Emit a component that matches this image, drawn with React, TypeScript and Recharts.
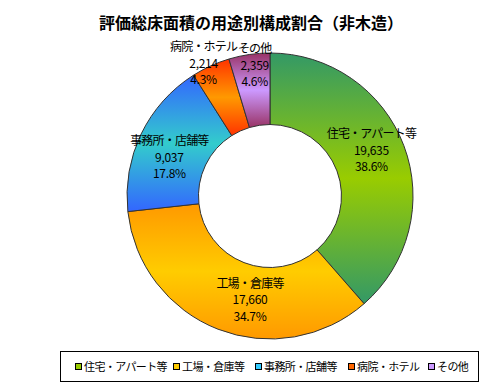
import React from "react";
import { PieChart, Pie, Cell } from "recharts";

// ── Data ───────────────────────────────────────────────────

const CATEGORIES = ["住宅・アパート等", "工場・倉庫等", "事務所・店舗等", "病院・ホテル", "その他"];
const VALUES = [19635, 17660, 9037, 2214, 2359];
const PERCENTS = ["38.6%", "34.7%", "17.8%", "4.3%", "4.6%"];

// ── Styles ─────────────────────────────────────────────────

const FONT = "'Noto Sans CJK JP', 'Noto Sans', sans-serif";

// [edge, center] of each slice's vertical gradient
const GRADS: [string, string][] = [
  ["#339966", "#99cc00"],
  ["#ff9900", "#ffcc00"],
  ["#3366ff", "#33cccc"],
  ["#ff3300", "#ff9900"],
  ["#993366", "#cc99ff"],
];
const LEGEND_COLORS = ["#99cc00", "#ffcc00", "#33ccff", "#ff6600", "#cc99ff"];
const LEGEND_X = [14, 112, 194, 287, 367];

// label radius (ratio of outer) and nudge for each slice
const LABEL_R = [0.75, 0.75, 0.75, 1.035, 0.93];
const LABEL_NUDGE: [number, number][] = [
  [1, -9],
  [19, 3],
  [-4, 7],
  [-5, 1],
  [4, 0],
];

const data = CATEGORIES.map((name, i) => ({ name, value: VALUES[i], pct: PERCENTS[i] }));

const TOTAL = VALUES.reduce((s, v) => s + v, 0);
const MID_ANGLES = VALUES.map((v, i) => {
  const before = VALUES.slice(0, i).reduce((s, x) => s + x, 0);
  return 90 - ((before + v / 2) / TOTAL) * 360;
});

const RADIAN = Math.PI / 180;

function renderLabel(props: any) {
  const { cx, cy, outerRadius, index } = props;
  const mid = MID_ANGLES[index];
  const r = outerRadius * LABEL_R[index];
  const x = cx + r * Math.cos(-mid * RADIAN) + LABEL_NUDGE[index][0];
  const y = cy + r * Math.sin(-mid * RADIAN) + LABEL_NUDGE[index][1];
  const lines = [CATEGORIES[index], VALUES[index].toLocaleString("en-US"), PERCENTS[index]];
  return (
    <text key={index} x={x} y={y} textAnchor="middle" fontSize={12} fontFamily={FONT} fill="#000">
      {lines.map((t, k) => (
        <tspan
          key={k}
          x={x}
          y={y + (k - 1) * 16.5}
          dominantBaseline="central"
          letterSpacing={k === 0 ? -0.8 : -0.3}
        >
          {t}
        </tspan>
      ))}
    </text>
  );
}

function LegendBox() {
  return (
    <div
      style={{
        position: "absolute",
        left: 60,
        top: 351,
        width: 417,
        height: 29,
        border: "1px solid #000",
        fontFamily: FONT,
        fontSize: 11,
        letterSpacing: -0.6,
        whiteSpace: "nowrap",
      }}
    >
      {CATEGORIES.map((c, i) => (
        <div
          key={c}
          style={{ position: "absolute", left: LEGEND_X[i], top: 6, display: "flex", alignItems: "center", lineHeight: "16px" }}
        >
          <span
            style={{
              display: "inline-block",
              width: 5,
              height: 5,
              border: "1px solid #000",
              background: LEGEND_COLORS[i],
              marginRight: 2,
            }}
          />
          <span>{c}</span>
        </div>
      ))}
    </div>
  );
}

export default function App() {
  return (
    <div style={{ position: "absolute", left: 0, top: 0, width: 502, height: 390, background: "#fff" }}>
      <svg width={0} height={0} style={{ position: "absolute" }}>
        <defs>
          {GRADS.map(([edge, center], i) => (
            <linearGradient key={i} id={`g${i}`} x1="0" y1="0" x2="0" y2="1">
              <stop offset="0%" stopColor={edge} />
              <stop offset="50%" stopColor={center} />
              <stop offset="100%" stopColor={edge} />
            </linearGradient>
          ))}
        </defs>
      </svg>
      <div
        style={{
          position: "absolute",
          left: 0,
          top: 12,
          width: 502,
          textAlign: "center",
          fontFamily: FONT,
          fontWeight: "bold",
          fontSize: 16,
          lineHeight: "20px",
        }}
      >
        評価総床面積の用途別構成割合（非木造）
      </div>
      <div style={{ position: "absolute", left: 0, top: 0 }}>
        <PieChart width={502} height={390} margin={{ top: 0, right: 0, bottom: 0, left: 0 }}>
          <Pie
            data={data}
            dataKey="value"
            nameKey="name"
            cx={270}
            cy={196}
            innerRadius={71.5}
            outerRadius={143}
            startAngle={90}
            endAngle={-270}
            stroke="#333"
            strokeWidth={1}
            label={renderLabel}
            labelLine={false}
            isAnimationActive={false}
          >
            {data.map((_, i) => (
              <Cell key={i} fill={`url(#g${i})`} />
            ))}
          </Pie>
        </PieChart>
      </div>
      <LegendBox />
    </div>
  );
}
